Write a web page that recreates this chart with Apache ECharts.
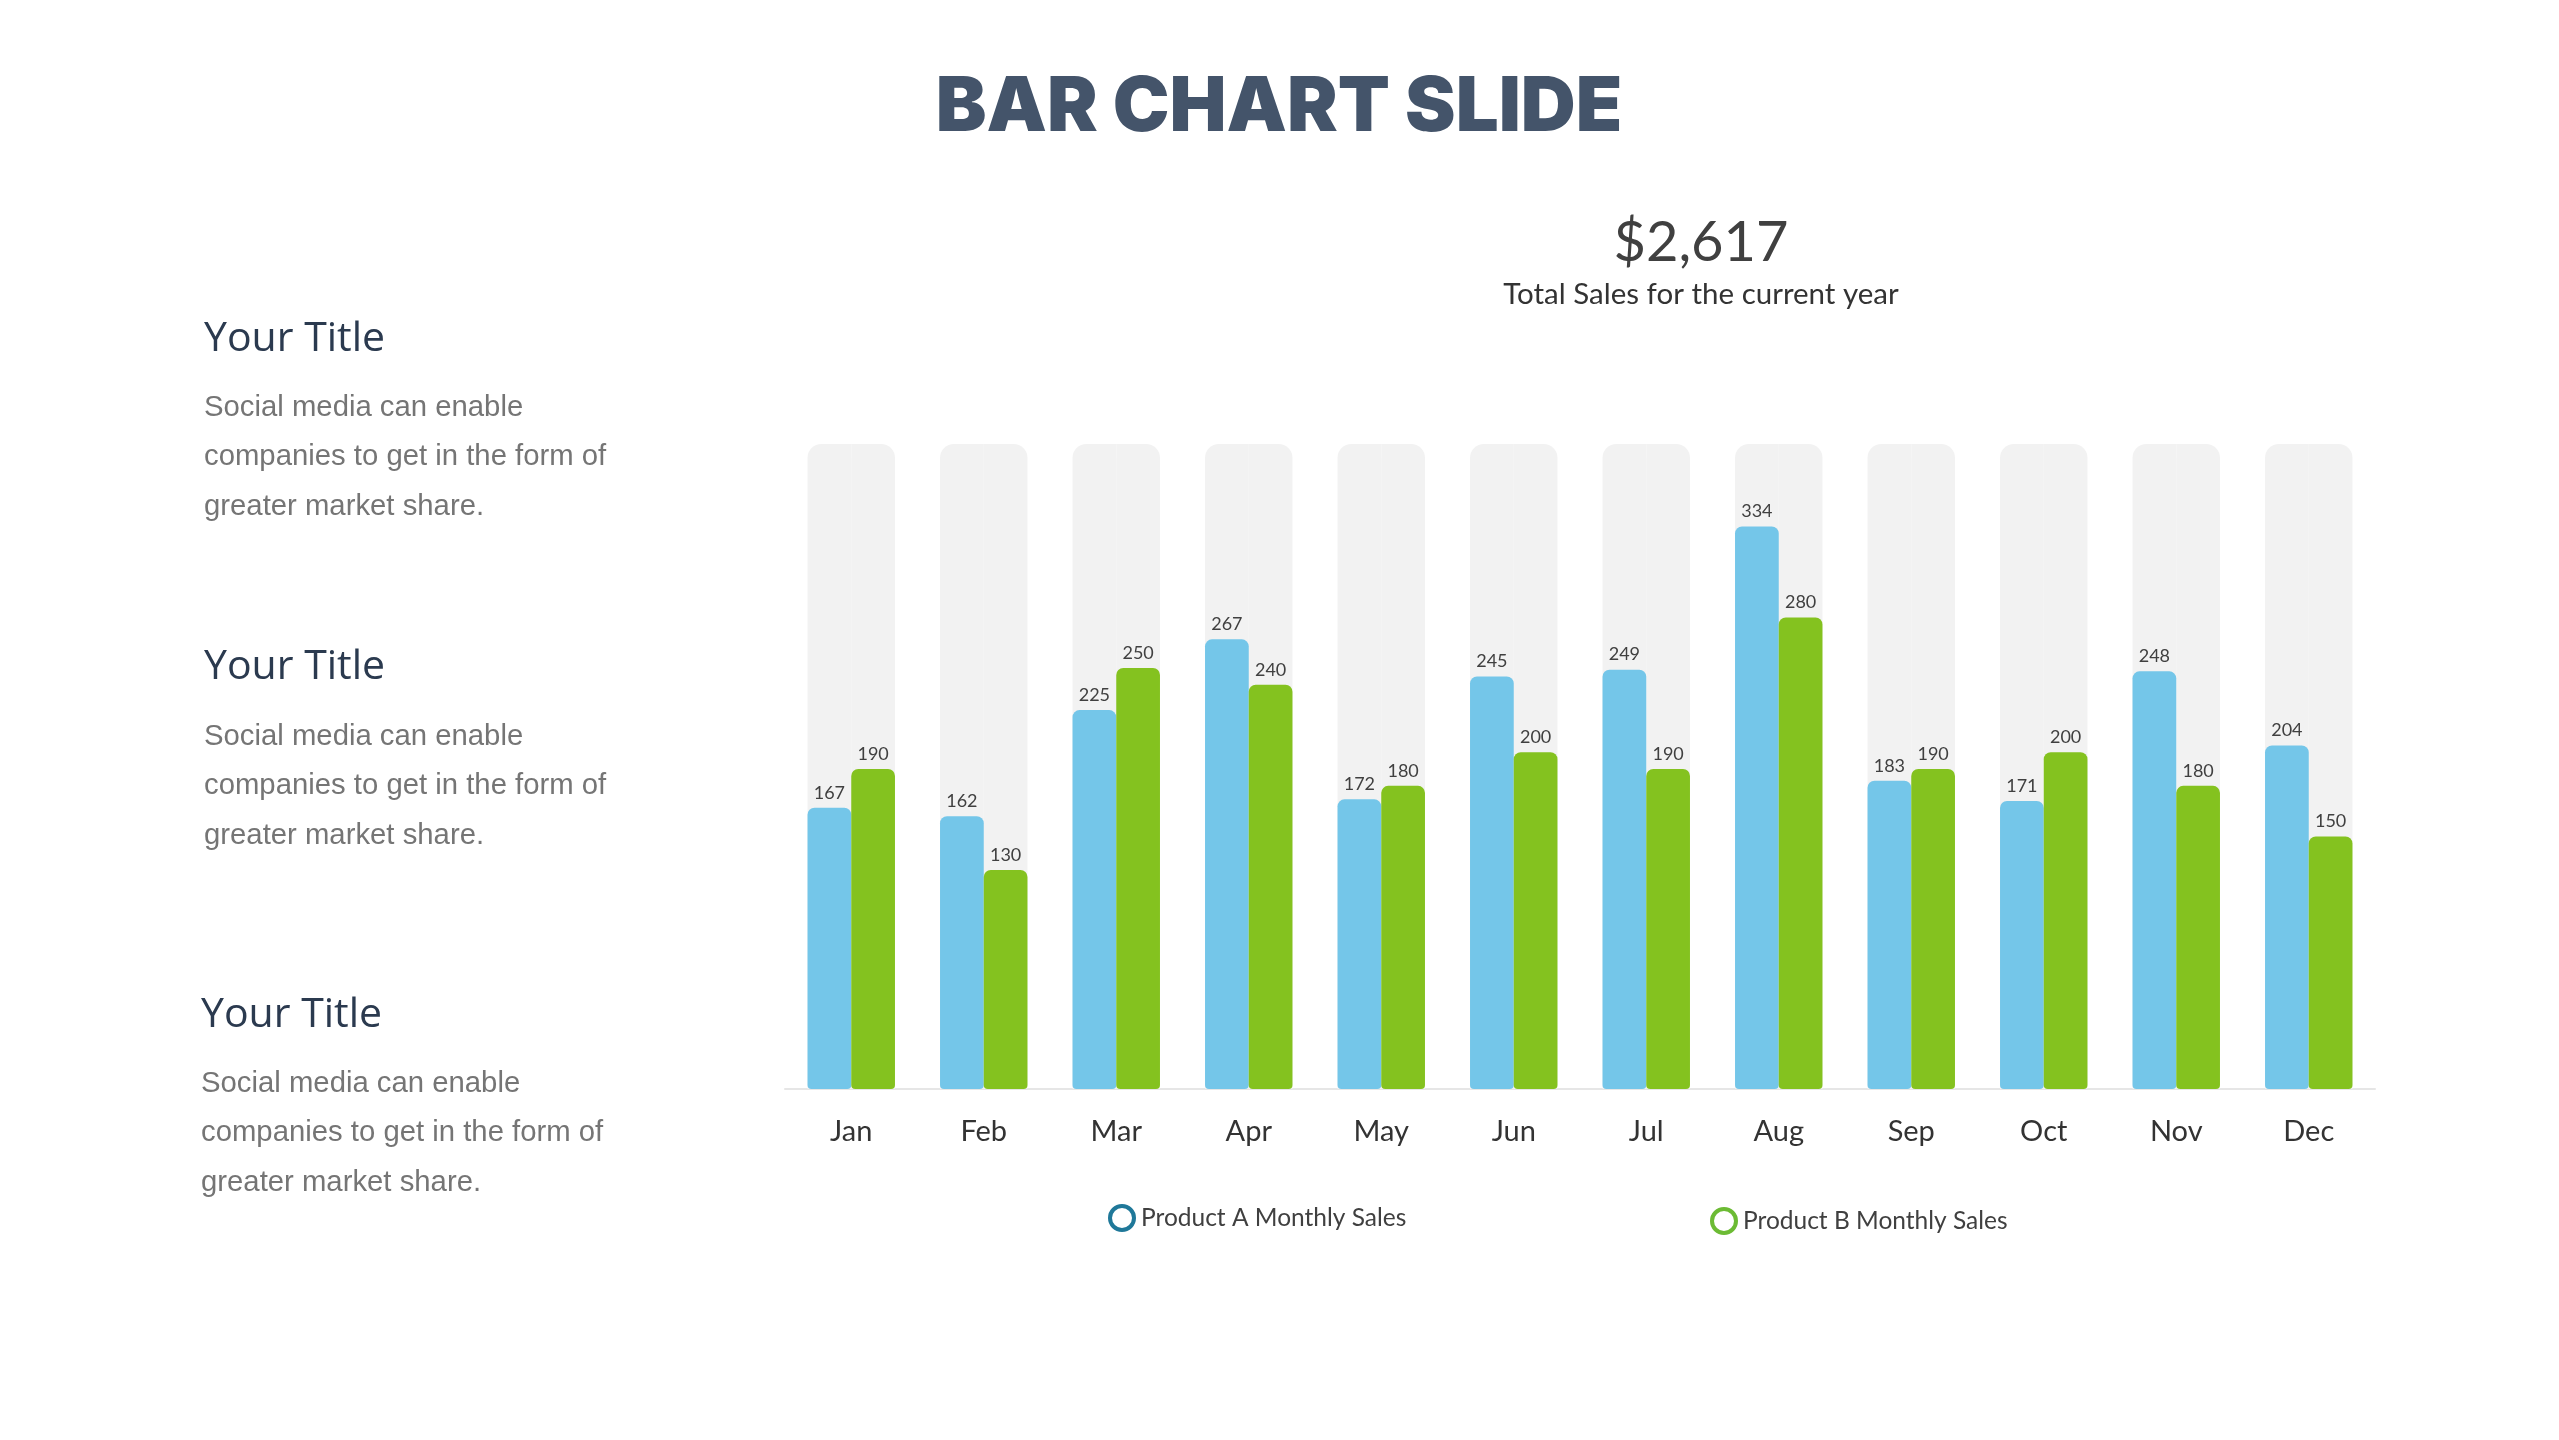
<!DOCTYPE html>
<html>
<head>
<meta charset="utf-8">
<script src="https://cdn.jsdelivr.net/npm/echarts@6/dist/echarts.min.js"></script>
<style>
  html, body { margin: 0; padding: 0; background: #ffffff; }
  #chart { width: 2559px; height: 1440px; }
</style>
</head>
<body>
<div id="chart"></div>
<script>
// ---- data ----
const months = ['Jan', 'Feb', 'Mar', 'Apr', 'May', 'Jun', 'Jul', 'Aug', 'Sep', 'Oct', 'Nov', 'Dec'];
const productA = [167, 162, 225, 267, 172, 245, 249, 334, 183, 171, 248, 204];
const productB = [190, 130, 250, 240, 180, 200, 190, 280, 190, 200, 180, 150];
const seriesNames = ['Product A Monthly Sales', 'Product B Monthly Sales'];
const axisMax = 383;
const totalText = '$2,617';
const totalCaption = 'Total Sales for the current year';
const pageTitle = 'BAR CHART SLIDE';
const sideTitles = ['Your Title', 'Your Title', 'Your Title'];
const sideBodies = [
  'Social media can enable\ncompanies to get in the form of\ngreater market share.',
  'Social media can enable\ncompanies to get in the form of\ngreater market share.',
  'Social media can enable\ncompanies to get in the form of\ngreater market share.'
];

const chart = echarts.init(document.getElementById('chart'), null, { renderer: 'canvas' });

const titleFont = 'Inter, "Open Sans", sans-serif';
const chartFont = 'Lato, "Open Sans", sans-serif';

const sideBlocks = [
  { tx: 204, ty: 339, by: 408 },
  { tx: 204, ty: 667, by: 737 },
  { tx: 201, ty: 1015, by: 1084 }
];
const graphics = [];
sideBlocks.forEach((b, i) => {
  graphics.push({
    type: 'text', x: b.tx, y: b.ty,
    style: { text: sideTitles[i], fill: '#2b3a4f', font: '400 41px "Open Sans", sans-serif', textAlign: 'left', textVerticalAlign: 'middle' }
  });
  graphics.push({
    type: 'text', x: b.tx, y: b.by - 25,
    style: { text: sideBodies[i], fill: '#757575', font: '400 29.3px "Liberation Sans", Arial, sans-serif', lineHeight: 49.5, textAlign: 'left', textVerticalAlign: 'top' }
  });
});
graphics.push({
  type: 'text', x: 1279, y: 108,
  style: { text: pageTitle, fill: '#44546a', font: '900 76px ' + titleFont, textAlign: 'center', textVerticalAlign: 'middle' }
});
graphics.push({
  type: 'text', x: 1701, y: 243,
  style: { text: totalText, fill: '#404040', font: '400 56px ' + chartFont, textAlign: 'center', textVerticalAlign: 'middle' }
});
graphics.push({
  type: 'text', x: 1701, y: 294,
  style: { text: totalCaption, fill: '#333333', font: '400 29.5px ' + chartFont, textAlign: 'center', textVerticalAlign: 'middle' }
});

const labelStyle = { show: true, position: 'top', distance: 6, fontSize: 18, color: '#404040', fontFamily: chartFont };

chart.setOption({
  backgroundColor: '#ffffff',
  animation: false,
  graphic: graphics,
  grid: { left: 785, right: 184, top: 444, bottom: 351, containLabel: false },
  legend: [
    {
      left: 1103, top: 1199, itemWidth: 24, itemHeight: 24, itemGap: 0,
      textStyle: { fontSize: 24.5, color: '#404040', fontFamily: chartFont, padding: [0, 0, 0, 2] },
      data: [{ name: seriesNames[0], icon: 'circle', itemStyle: { color: '#ffffff', borderColor: '#1f7899', borderWidth: 4 } }]
    },
    {
      left: 1705, top: 1202, itemWidth: 24, itemHeight: 24, itemGap: 0,
      textStyle: { fontSize: 24.5, color: '#404040', fontFamily: chartFont, padding: [0, 0, 0, 2] },
      data: [{ name: seriesNames[1], icon: 'circle', itemStyle: { color: '#ffffff', borderColor: '#6cbb34', borderWidth: 4 } }]
    }
  ],
  xAxis: {
    type: 'category',
    data: months,
    axisLine: { show: true, lineStyle: { color: '#e6e6e6', width: 2 } },
    axisTick: { show: false },
    axisLabel: { fontSize: 29, color: '#333333', fontFamily: chartFont, margin: 28 },
    splitLine: { show: false }
  },
  yAxis: {
    type: 'value', min: 0, max: axisMax, show: false,
    splitLine: { show: false }
  },
  series: [
    {
      name: seriesNames[0], type: 'bar', data: productA,
      barGap: '0%', barCategoryGap: '34%',
      itemStyle: { color: '#74c6e9', borderRadius: [7, 7, 4, 4] },
      showBackground: true,
      backgroundStyle: { color: '#f2f2f2', borderRadius: [14, 0, 0, 0] },
      label: labelStyle
    },
    {
      name: seriesNames[1], type: 'bar', data: productB,
      barGap: '0%', barCategoryGap: '34%',
      itemStyle: { color: '#84c21f', borderRadius: [7, 7, 4, 4] },
      showBackground: true,
      backgroundStyle: { color: '#f2f2f2', borderRadius: [0, 14, 0, 0] },
      label: labelStyle
    }
  ]
});
</script>
</body>
</html>
